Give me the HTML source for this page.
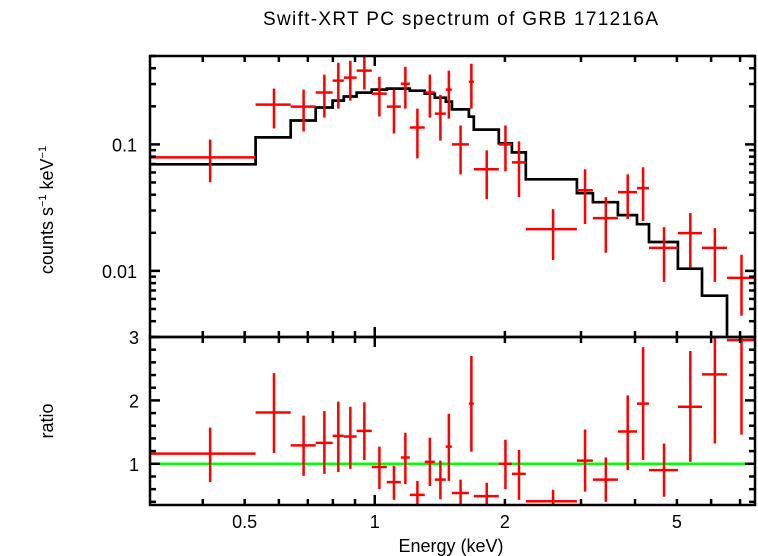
<!DOCTYPE html>
<html><head><meta charset="utf-8"><style>
html,body{margin:0;padding:0;background:#fff;}
svg{display:block;font-family:"Liberation Sans",sans-serif;}
</style></head><body>
<svg id="chart" width="758" height="556" viewBox="0 0 758 556" xmlns="http://www.w3.org/2000/svg">
<text x="263" y="25" font-size="19" textLength="395" lengthAdjust="spacing">Swift-XRT PC spectrum of GRB 171216A</text>
<text transform="translate(53,210) rotate(-90)" font-size="18" text-anchor="middle">counts s<tspan font-size="11" dy="-7">−1</tspan><tspan dy="7"> keV</tspan><tspan font-size="11" dy="-7">−1</tspan></text>
<text transform="translate(53,421) rotate(-90)" font-size="18" text-anchor="middle">ratio</text>
<text x="451" y="552" font-size="18" text-anchor="middle">Energy (keV)</text>
<g id="g"></g>
</svg>
<script>
const binLo=[0.302,0.530,0.639,0.730,0.799,0.848,0.908,0.984,1.066,1.149,1.205,1.305,1.377,1.460,1.508,1.651,1.695,1.936,2.076,2.236,2.935,3.196,3.652,4.043,4.309,5.028,5.714,6.528];
const binHi=[0.530,0.639,0.730,0.799,0.848,0.908,0.984,1.066,1.149,1.205,1.305,1.377,1.460,1.508,1.651,1.695,1.936,2.076,2.236,2.935,3.196,3.652,4.043,4.309,5.028,5.714,6.528,7.58];
const rate=[0.079,0.2065,0.199,0.257,0.319,0.337,0.383,0.252,0.199,0.302,0.136,0.257,0.175,0.271,0.1,0.313,0.0636,0.1,0.0721,0.0214,0.0434,0.0261,0.0419,0.0451,0.0152,0.0199,0.0152,0.00881];
const rateHi=[0.109,0.276,0.271,0.356,0.442,0.459,0.502,0.343,0.271,0.411,0.192,0.356,0.247,0.383,0.141,0.434,0.0897,0.141,0.1056,0.0308,0.0636,0.0383,0.058,0.0659,0.0222,0.0286,0.0218,0.0134];
const rateLo=[0.0502,0.1337,0.1266,0.163,0.192,0.222,0.271,0.166,0.122,0.192,0.0776,0.163,0.107,0.160,0.058,0.192,0.0369,0.0613,0.0383,0.0122,0.0235,0.0139,0.0257,0.0248,0.00819,0.0106,0.00819,0.00442];
const model=[0.0696,0.1135,0.1546,0.1956,0.222,0.239,0.257,0.271,0.276,0.276,0.266,0.252,0.234,0.218,0.189,0.166,0.131,0.102,0.0865,0.053,0.0411,0.0349,0.0276,0.0234,0.0169,0.0104,0.00636,0.002];
const ratio=[1.16,1.81,1.29,1.33,1.44,1.43,1.52,0.95,0.71,1.10,0.51,1.03,0.75,1.27,0.54,1.95,0.49,1.0,0.84,0.41,1.05,0.75,1.51,1.95,0.90,1.90,2.41,2.95];
const ratioHi=[1.57,2.43,1.76,1.83,1.98,1.90,1.97,1.27,0.97,1.49,0.73,1.41,1.05,1.79,0.75,2.70,0.70,1.38,1.22,0.59,1.54,1.10,2.08,2.84,1.32,2.78,3.03,3.03];
const ratioLo=[0.71,1.17,0.81,0.84,0.87,0.92,1.06,0.60,0.43,0.68,0.32,0.65,0.44,0.73,0.32,1.19,0.32,0.60,0.43,0.32,0.56,0.40,0.90,1.06,0.48,1.03,1.32,1.46];
const xTickLabels=[0.5,1,2,5];
const yTopLabels=[0.1,0.01];
const yBotLabels=[1,2,3];

const L=150,R=755,T=56,M=337,B=505;
const xMin=0.302,xMax=7.58,yTMin=0.003,yTMax=0.5,rMin=0.35,rMax=3.0;
const X=e=>L+(Math.log10(e)-Math.log10(xMin))/(Math.log10(xMax)-Math.log10(xMin))*(R-L);
const YT=v=>M-(Math.log10(v)-Math.log10(yTMin))/(Math.log10(yTMax)-Math.log10(yTMin))*(M-T);
const YB=v=>B-(v-rMin)/(rMax-rMin)*(B-M);
const ns="http://www.w3.org/2000/svg";
const g=document.getElementById('g');
function mk(tag,at){const e=document.createElementNS(ns,tag);for(const k in at)e.setAttribute(k,at[k]);g.appendChild(e);return e;}
function ln(x1,y1,x2,y2,c,w){return mk('line',{x1,y1,x2,y2,stroke:c,'stroke-width':w});}

const defs=mk('defs',{});
const cp1=document.createElementNS(ns,'clipPath');cp1.setAttribute('id','ct');defs.appendChild(cp1);
const r1=document.createElementNS(ns,'rect');r1.setAttribute('x',L);r1.setAttribute('y',T);r1.setAttribute('width',R-L);r1.setAttribute('height',M-T);cp1.appendChild(r1);
const cp2=document.createElementNS(ns,'clipPath');cp2.setAttribute('id','cb');defs.appendChild(cp2);
const r2=document.createElementNS(ns,'rect');r2.setAttribute('x',L);r2.setAttribute('y',M);r2.setAttribute('width',R-L);r2.setAttribute('height',B-M);cp2.appendChild(r2);

const gt=mk('g',{'clip-path':'url(#ct)'});


const gb=mk('g',{'clip-path':'url(#cb)'});



let d='';
for(let i=0;i<model.length;i++){
  const x1=X(binLo[i]),x2=X(binHi[i]),y=YT(model[i]);
  d+=(i===0?'M':'L')+x1.toFixed(1)+','+y.toFixed(1)+'L'+x2.toFixed(1)+','+y.toFixed(1);
}
const mp=mk('path',{d,fill:'none',stroke:'#000','stroke-width':2.7});


gt.appendChild(mp);

for(let i=0;i<rate.length;i++){
  const xc=X((binLo[i]+binHi[i])/2);
  const p=mk('path',{d:`M${X(binLo[i])},${YT(rate[i])}H${X(binHi[i])}M${xc},${YT(rateLo[i])}V${YT(rateHi[i])}`,stroke:'#f00','stroke-width':2.5,fill:'none'});
  
  
  gt.appendChild(p);
}
const gl=ln(L,YB(1),R,YB(1),'#0f0',2.5);


gb.appendChild(gl);
for(let i=0;i<ratio.length;i++){
  const xc=X((binLo[i]+binHi[i])/2);
  const p=mk('path',{d:`M${X(binLo[i])},${YB(ratio[i])}H${X(binHi[i])}M${xc},${YB(ratioLo[i])}V${YB(ratioHi[i])}`,stroke:'#f00','stroke-width':2.5,fill:'none'});
  
  
  gb.appendChild(p);
}

const xt=[0.4,0.5,0.6,0.7,0.8,0.9,1,2,3,4,5,6,7];
for(const e of xt){
  const x=X(e),len=(e===1)?10:6;
  for(const [y0,dir] of [[T,1],[M,-1],[M,1],[B,-1]]) ln(x,y0,x,y0+dir*len,'#000',2.5);
}
const yt=[];
for(const dec of [0.001,0.01,0.1]) for(let k=1;k<10;k++){const v=k*dec;if(v>=yTMin&&v<=yTMax)yt.push(v);}
for(const v of yt){const y=YT(v),len=(Math.abs(v-0.01)<1e-9||Math.abs(v-0.1)<1e-9)?10:6;ln(L,y,L+len,y,'#000',2.5);ln(R,y,R-len,y,'#000',2.5);}
for(let k=2;k<=30;k+=2){const v=k/10;if(v<rMin)continue;const y=YB(v),len=(k%10===0)?10:6;ln(L,y,L+len,y,'#000',2.5);ln(R,y,R-len,y,'#000',2.5);}

const f1=mk('rect',{x:L,y:T,width:R-L,height:M-T,fill:'none',stroke:'#000','stroke-width':2.5});


const f2=mk('rect',{x:L,y:M,width:R-L,height:B-M,fill:'none',stroke:'#000','stroke-width':2.5});



function txt(s,x,y,anchor){const t=mk('text',{x,y,'font-size':18,'text-anchor':anchor});t.textContent=s;return t;}
for(const v of xTickLabels){const t=txt(String(v),X(v),528,'middle');}
for(const v of yTopLabels){const t=txt(String(v),137,YT(v)+7,'end');}
for(const v of yBotLabels){const t=txt(String(v),139,YB(v)+7,'end');}
</script>
</body></html>
